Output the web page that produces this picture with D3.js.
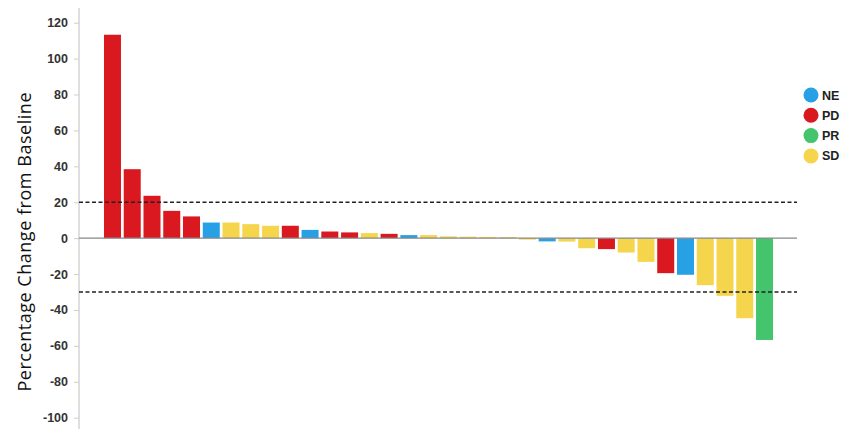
<!DOCTYPE html>
<html>
<head>
<meta charset="utf-8">
<script src="https://cdn.jsdelivr.net/npm/d3@7"></script>
<style>
  html, body { margin: 0; padding: 0; background: #fff; }
  svg { display: block; }
</style>
</head>
<body>
<svg id="chart" width="844" height="429"></svg>
<script>
// ---- data ----
const patients = d3.range(1, 35).map(i => "P" + i);
const changes = [113.3, 38.4, 23.6, 15.2, 12.1, 8.7, 8.7, 7.8, 6.9, 6.9, 4.6, 3.7, 3.2, 2.8, 2.4, 1.7, 1.7, 1.0, 0.8, 0.7, 0.6, -0.8, -1.8, -1.9, -5.6, -6.1, -8.0, -13.2, -19.5, -20.4, -26.2, -32.1, -44.6, -56.7];
const responses = ["PD","PD","PD","PD","PD","NE","SD","SD","SD","PD","NE","PD","PD","SD","PD","NE","SD","SD","SD","SD","SD","SD","NE","SD","SD","PD","SD","SD","PD","NE","SD","SD","SD","PR"];
const legendCategories = ["NE", "PD", "PR", "SD"];
const categoryColors = ["#27a0e6", "#d9191f", "#43c46d", "#f5d54b"];
const yTicks = [120, 100, 80, 60, 40, 20, 0, -20, -40, -60, -80, -100];
const thresholds = [20, -30];
const yLabel = "Percentage Change from Baseline";

// ---- layout ----
const svg = d3.select("#chart");
const axisX = 79;
const plotRight = 797;

const y = d3.scaleLinear().domain([-100, 120]).range([417.7, 22.7]);
const x = d3.scaleBand().domain(patients).range([94.1, 782.9]).paddingInner(0.14).paddingOuter(0.5);
const color = d3.scaleOrdinal().domain(legendCategories).range(categoryColors);

// vertical axis line
svg.append("line")
  .attr("x1", axisX).attr("x2", axisX)
  .attr("y1", 8).attr("y2", 429)
  .attr("stroke", "#d4d4d4").attr("stroke-width", 1.5);

// y axis ticks & labels
const yAxis = d3.axisLeft(y).tickValues(yTicks).tickSize(5).tickPadding(6).tickFormat(d => String(d));
const gy = svg.append("g").attr("transform", `translate(${axisX},0)`).call(yAxis);
gy.select(".domain").remove();
gy.selectAll(".tick line").attr("stroke", "#cfcfcf");
gy.selectAll(".tick text")
  .attr("fill", "#333")
  .style("font-family", "'Liberation Sans', Arial, sans-serif")
  .style("font-weight", "bold")
  .style("font-size", "12.5px");

// bars
const data = patients.map((p, i) => ({ p, v: changes[i], r: responses[i] }));
svg.append("g").selectAll("rect").data(data).join("rect")
  .attr("x", d => x(d.p))
  .attr("width", x.bandwidth())
  .attr("y", d => d.v >= 0 ? y(d.v) : y(0))
  .attr("height", d => Math.abs(y(d.v) - y(0)))
  .attr("fill", d => color(d.r));

// zero line
svg.append("line")
  .attr("x1", axisX).attr("x2", plotRight)
  .attr("y1", y(0)).attr("y2", y(0))
  .attr("stroke", "#888").attr("stroke-width", 1.2);

// threshold dashed lines
svg.append("g").selectAll("line").data(thresholds).join("line")
  .attr("x1", axisX).attr("x2", plotRight)
  .attr("y1", d => y(d)).attr("y2", d => y(d))
  .attr("stroke", "#222").attr("stroke-width", 1.5)
  .attr("stroke-dasharray", "4,2.5");

// y label
svg.append("text")
  .attr("transform", `translate(26,${242}) rotate(-90)`)
  .attr("text-anchor", "middle")
  .attr("dominant-baseline", "middle")
  .attr("textLength", 299)
  .attr("lengthAdjust", "spacing")
  .style("font-family", "'Open Sans', sans-serif")
  .style("font-size", "18px")
  .attr("fill", "#111")
  .text(yLabel);

// legend
const legend = svg.append("g").selectAll("g").data(legendCategories).join("g")
  .attr("transform", (d, i) => `translate(811,${95 + i * 20.3})`);
legend.append("circle").attr("r", 7.5).attr("fill", d => color(d));
legend.append("text")
  .attr("x", 11).attr("dy", "0.36em")
  .style("font-family", "'Liberation Sans', Arial, sans-serif")
  .style("font-weight", "bold")
  .style("font-size", "12.5px")
  .attr("fill", "#222")
  .text(d => d);
</script>
</body>
</html>
